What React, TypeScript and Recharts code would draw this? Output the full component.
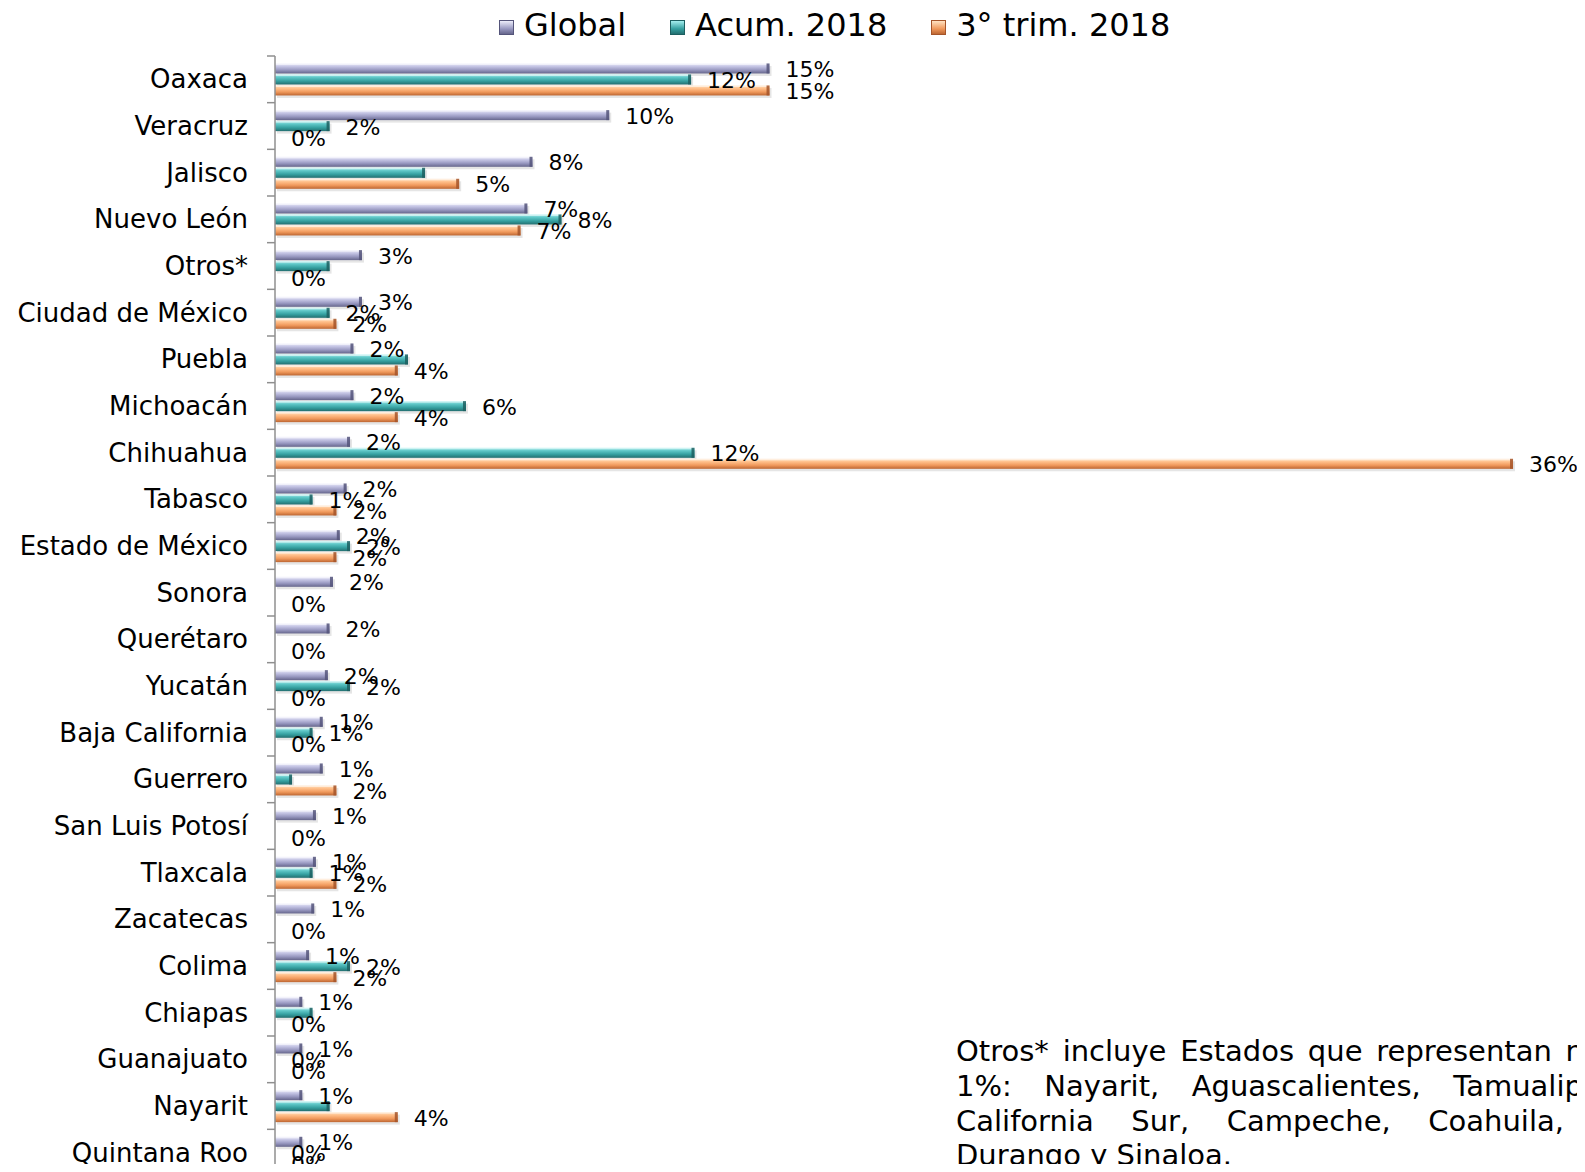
import React from 'react';
import { BarChart, Bar, XAxis, YAxis, LabelList } from 'recharts';

// share of total, in percent
const categories = [
  'Oaxaca', 'Veracruz', 'Jalisco', 'Nuevo León', 'Otros*', 'Ciudad de México',
  'Puebla', 'Michoacán', 'Chihuahua', 'Tabasco', 'Estado de México', 'Sonora',
  'Querétaro', 'Yucatán', 'Baja California', 'Guerrero', 'San Luis Potosí',
  'Tlaxcala', 'Zacatecas', 'Colima', 'Chiapas', 'Guanajuato', 'Nayarit', 'Quintana Roo',
];
const globalShare = [14.5, 9.8, 7.55, 7.4, 2.55, 2.55, 2.3, 2.3, 2.2, 2.1, 1.9, 1.7, 1.6, 1.55, 1.4, 1.4, 1.2, 1.2, 1.15, 1.0, 0.8, 0.8, 0.8, 0.8];
const acumShare = [12.2, 1.6, 4.4, 8.4, 1.6, 1.6, 3.9, 5.6, 12.3, 1.1, 2.2, null, null, 2.2, 1.1, 0.5, null, 1.1, null, 2.2, 1.1, 0, 1.6, 0];
const trimShare = [14.5, 0, 5.4, 7.2, 0, 1.8, 3.6, 3.6, 36.3, 1.8, 1.8, 0, 0, 0, 0, 1.8, 0, 1.8, 0, 1.8, 0, 0, 3.6, 0];
// labels that are not shown on the original
const hiddenAcumLabels = ['Jalisco', 'Otros*', 'Puebla', 'Guerrero', 'Chiapas', 'Nayarit'];

const seriesNames = ['Global', 'Acum. 2018', '3° trim. 2018'];

const noteLines = [
  ['Otros*', 'incluye', 'Estados', 'que', 'representan', 'menos', 'del'],
  ['1%:', 'Nayarit,', 'Aguascalientes,', 'Tamualipas,', 'Baja'],
  ['California', 'Sur,', 'Campeche,', 'Coahuila,', 'Hidalgo,'],
];
const noteLast = 'Durango y Sinaloa.';

const data = categories.map((name, i) => ({
  name,
  global: globalShare[i],
  acum: acumShare[i],
  trim: trimShare[i],
}));

const FONT = '"DejaVu Sans", Verdana, sans-serif';
const AXIS_X = 275;
const BAND = 1120 / 24;

const SERIES = [
  { key: 'global', id: 'gGlobal', stops: ['#ececfa', '#c4c4e4', '#9898c0', '#66668c'], edge: '#55557a' },
  { key: 'acum', id: 'gAcum', stops: ['#a4eeee', '#5ec6c6', '#35a0a0', '#236f70'], edge: '#1d5f60' },
  { key: 'trim', id: 'gTrim', stops: ['#ffe2c2', '#ffbf8a', '#f0995c', '#bd6632'], edge: '#a5552a' },
];

const labelValue = (key: string) => (d: any) => {
  if (key === 'acum' && hiddenAcumLabels.includes(d.name)) return null;
  return d[key];
};

const BevelBar = (props: any) => {
  const { x, y, width, height, fill, edge } = props;
  if (!width || width <= 0) return null;
  const e = Math.min(3, width / 2);
  return (
    <g>
      <rect x={x + 2} y={y + 2.5} width={width} height={height} fill="#000" opacity={0.1} />
      <rect x={x} y={y} width={width} height={height} fill={fill} />
      <rect x={x} y={y} width={width} height={1.5} fill="#fff" opacity={0.55} />
      <rect x={x + width - e} y={y} width={e} height={height} fill={edge} opacity={0.85} />
    </g>
  );
};

const renderLabel = (p: any) => {
  const vb = p.viewBox || p;
  const { value } = p;
  if (value === null || value === undefined) return null;
  const w = Math.max(0, vb.width || 0);
  return (
    <text
      x={vb.x + w + 16}
      y={vb.y + vb.height / 2 + 1}
      fontSize={22}
      fontFamily={FONT}
      fill="#000"
      dominantBaseline="central"
    >
      {`${Math.round(value)}%`}
    </text>
  );
};

const CategoryTick = (props: any) => {
  const { y, payload } = props;
  return (
    <g>
      <line x1={AXIS_X - 8} x2={AXIS_X} y1={y - BAND / 2} y2={y - BAND / 2} stroke="#8f8f8f" strokeWidth={1.5} />
      <text x={248} y={y} textAnchor="end" dominantBaseline="central" fontSize={26} fontFamily={FONT} fill="#000">
        {payload.value}
      </text>
    </g>
  );
};

const Legend = () => (
  <div style={{ position: 'absolute', left: 499, top: 6, display: 'flex', alignItems: 'center', fontFamily: FONT, fontSize: 32 }}>
    {SERIES.map((s, i) => (
      <div key={s.key} style={{ display: 'flex', alignItems: 'center', marginRight: 44 }}>
        <div style={{
          width: 15, height: 15, marginRight: 10, marginTop: 4,
          background: `linear-gradient(180deg, ${s.stops[0]}, ${s.stops[2]} 60%, ${s.stops[3]})`,
          border: `1px solid ${s.edge}`, boxSizing: 'border-box',
        }} />
        <span style={{ lineHeight: '38px' }}>{seriesNames[i]}</span>
      </div>
    ))}
  </div>
);

const Note = () => (
  <div style={{ position: 'absolute', left: 956, top: 1034, width: 765, fontFamily: FONT, fontSize: 29, lineHeight: '34.8px', color: '#000' }}>
    {noteLines.map((line, i) => (
      <div key={i} style={{ display: 'flex', justifyContent: 'space-between', whiteSpace: 'nowrap' }}>
        {line.map((w, j) => <span key={j}>{w}</span>)}
      </div>
    ))}
    <div style={{ whiteSpace: 'nowrap' }}>{noteLast}</div>
  </div>
);

export default function App() {
  return (
    <div style={{ position: 'relative', width: 1585, height: 1172, overflow: 'hidden', margin: -8, background: '#fff' }}>
      <Legend />
      <BarChart
        width={1585}
        height={1180}
        data={data}
        layout="vertical"
        margin={{ top: 56, right: 14, bottom: 4, left: 0 }}
        barCategoryGap="16%"
        barGap={1}
      >
        <defs>
          {SERIES.map((s) => (
            <linearGradient key={s.id} id={s.id} x1="0" y1="0" x2="0" y2="1">
              <stop offset="0%" stopColor={s.stops[0]} />
              <stop offset="30%" stopColor={s.stops[1]} />
              <stop offset="65%" stopColor={s.stops[2]} />
              <stop offset="100%" stopColor={s.stops[3]} />
            </linearGradient>
          ))}
        </defs>
        <XAxis type="number" domain={[0, 38]} hide />
        <YAxis
          type="category"
          dataKey="name"
          width={AXIS_X}
          axisLine={{ stroke: '#8f8f8f', strokeWidth: 1.5 }}
          tickLine={false}
          tick={<CategoryTick />}
          interval={0}
        />
        {SERIES.map((s) => (
          <Bar
            key={s.key}
            dataKey={s.key}
            fill={`url(#${s.id})`}
            isAnimationActive={false}
            shape={(p: any) => <BevelBar {...p} edge={s.edge} />}
          >
            <LabelList dataKey={labelValue(s.key)} content={renderLabel} />
          </Bar>
        ))}
      </BarChart>
      <Note />
    </div>
  );
}
